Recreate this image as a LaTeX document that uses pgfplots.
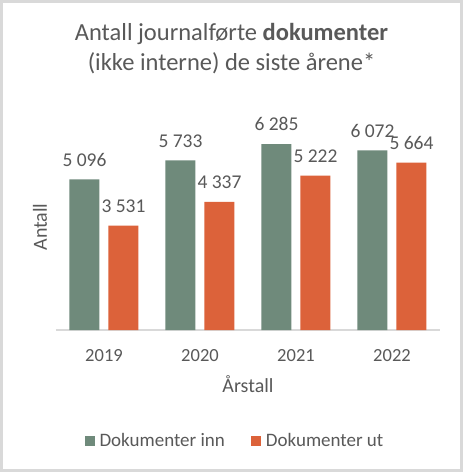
\documentclass[border=0pt]{standalone}
\usepackage{fontspec}
\setmainfont{Carlito}
\usepackage{pgfplots}
\pgfplotsset{compat=1.18}
\definecolor{txt}{HTML}{595959}
\definecolor{inn}{HTML}{6F8A7B}
\definecolor{ut}{HTML}{DC623A}
\definecolor{framec}{HTML}{D9D9D9}
\begin{document}
\begin{tikzpicture}[x=1pt,y=1pt]
\useasboundingbox (0,0) rectangle (463,472);
\fill[white] (0,0) rectangle (463,472);
\draw[framec, line width=3pt] (1.5,1.5) rectangle (461.5,470.5);
\node[anchor=base, text=txt, font=\fontsize{24.5}{29}\selectfont, inner sep=0pt] at (231.5,431.3) {Antall journalførte \textbf{dokumenter}};
\node[anchor=base, text=txt, font=\fontsize{24.5}{29}\selectfont, inner sep=0pt] at (231.5,401.3) {(ikke interne) de siste årene*};
\node[rotate=90, anchor=center, text=txt, font=\fontsize{20}{24}\selectfont, inner sep=0pt] at (40,245) {Antall};
\begin{axis}[
  at={(56pt,142pt)}, anchor=south west,
  scale only axis, width=384pt, height=207pt,
  xmin=-0.5, xmax=3.5, ymin=0, ymax=7000,
  ybar=9pt, bar width=30pt,
  axis y line=none, axis x line*=bottom,
  axis line style={framec, line width=1.5pt, -},
  every outer x axis line/.append style={-},
  xtick={0,1,2,3}, xticklabels={2019,2020,2021,2022},
  major tick length=0pt,
  xticklabel style={anchor=base, yshift=-31.7pt, text=txt, font=\fontsize{18.5}{22}\selectfont},
  xlabel={Årstall},
  xlabel style={at={(axis description cs:0.5,0)}, anchor=base, yshift=-62pt, text=txt, font=\fontsize{20}{24}\selectfont},
  nodes near coords, point meta=explicit symbolic,
  every node near coord/.append style={anchor=base, yshift=13.3pt, text=txt, font=\fontsize{19.5}{23}\selectfont, inner sep=0pt},
  legend columns=2,
  legend style={at={(axis description cs:0.466,-0.536)}, anchor=center, draw=none, fill=none,
    font=\fontsize{19}{23}\selectfont, text=txt,
    /tikz/every odd column/.append style={column sep=3pt},
    /tikz/every even column/.append style={column sep=24pt}},
  legend image code/.code={\fill[#1] (0pt,-5pt) rectangle (10pt,5pt);},
]
\addplot[fill=inn, draw=none] coordinates {(0,5096) [5 096] (1,5733) [5 733] (2,6285) [6 285] (3,6072) [6 072]};
\addplot[fill=ut, draw=none] coordinates {(0,3531) [3 531] (1,4337) [4 337] (2,5222) [5 222] (3,5664) [5 664]};
\legend{Dokumenter inn, Dokumenter ut}
\end{axis}
\end{tikzpicture}
\end{document}
